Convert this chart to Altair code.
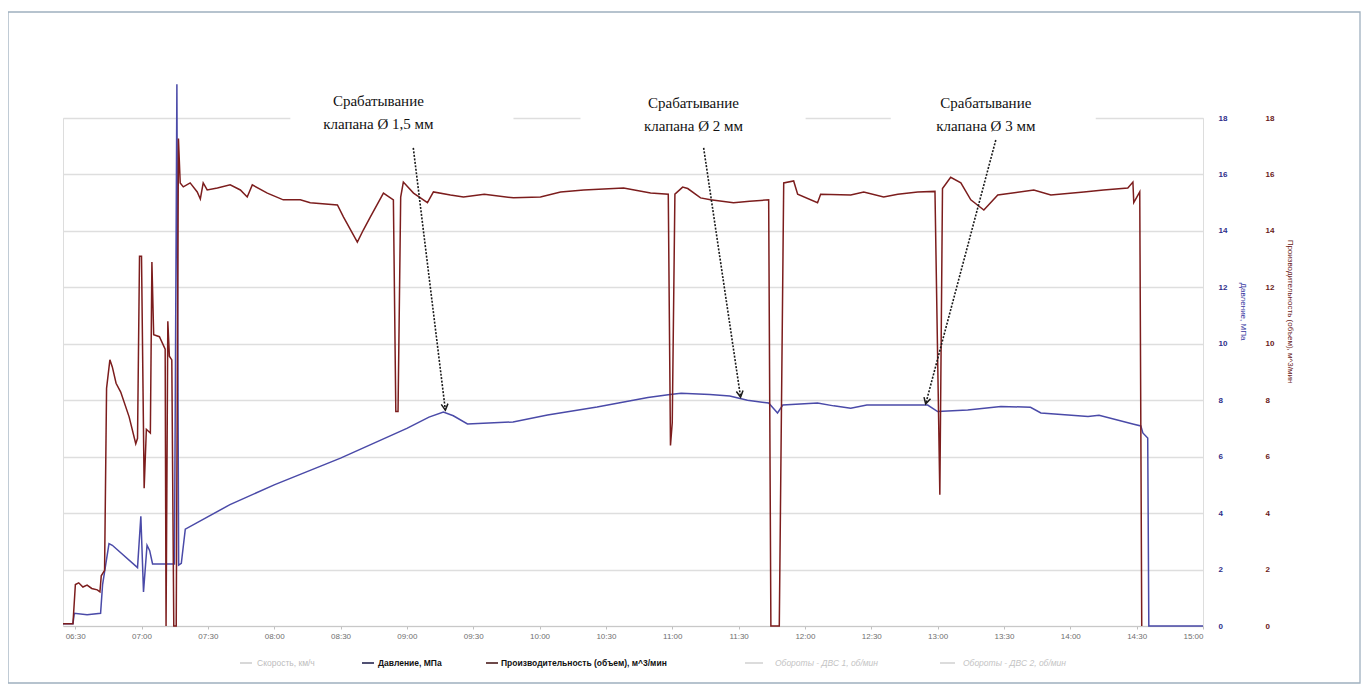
import math
import altair as alt
import pandas as pd

# ---------------- data ----------------
blue_time = ["06:24:30", "06:29:00", "06:29:36", "06:35:24", "06:41:30", "06:42:24", "06:45:18",
             "06:46:48", "06:58:12", "06:59:42", "07:00:54", "07:02:30", "07:03:42", "07:05:00",
             "07:14:54", "07:16:00", "07:16:48", "07:18:00", "07:19:48", "07:26:00", "07:40:00",
             "08:00:00", "08:30:00", "09:00:00", "09:10:00", "09:16:30", "09:21:00", "09:27:24",
             "09:48:00", "10:03:36", "10:26:00", "10:49:00", "10:59:00", "11:04:00", "11:17:00",
             "11:26:00", "11:34:00", "11:43:36", "11:47:36", "11:50:00", "12:05:42", "12:13:00",
             "12:20:42", "12:28:00", "12:55:30", "13:00:00", "13:13:36", "13:28:36", "13:42:00",
             "13:46:42", "13:59:00", "14:08:00", "14:13:00", "14:28:42", "14:31:54", "14:32:48",
             "14:35:00", "14:35:30", "15:00:00"]
blue_value = [0.08, 0.08, 0.45, 0.40, 0.45, 1.47, 2.92,
              2.86, 2.07, 3.89, 1.21, 2.86, 2.67, 2.20,
              2.20, 19.2, 2.16, 2.22, 3.43, 3.70, 4.30,
              5.00, 5.95, 7.00, 7.40, 7.58, 7.45, 7.16,
              7.23, 7.48, 7.76, 8.10, 8.20, 8.25, 8.20,
              8.15, 8.00, 7.90, 7.55, 7.83, 7.90, 7.80,
              7.72, 7.83, 7.83, 7.60, 7.65, 7.78, 7.75,
              7.55, 7.48, 7.42, 7.47, 7.15, 7.09, 6.84,
              6.66, 0.0, 0.0]

red_time = ["06:24:30", "06:29:00", "06:30:06", "06:31:36", "06:33:30", "06:35:24", "06:37:30",
            "06:40:00", "06:41:12", "06:41:48", "06:43:18", "06:44:12", "06:45:42", "06:46:48",
            "06:48:30", "06:50:36", "06:54:24", "06:57:24", "06:58:12", "06:59:06", "07:00:00",
            "07:01:12", "07:02:12", "07:04:00", "07:04:42", "07:05:30", "07:08:06", "07:10:42",
            "07:11:06", "07:11:54", "07:12:36", "07:13:42", "07:14:36", "07:15:42", "07:16:42",
            "07:17:30", "07:18:54", "07:22:00", "07:25:12", "07:26:36", "07:27:54", "07:29:42",
            "07:34:18", "07:40:06", "07:44:42", "07:47:48", "07:50:06", "07:56:54", "08:04:06",
            "08:11:48", "08:16:18", "08:28:36", "08:31:18", "08:37:36", "08:40:18", "08:43:30",
            "08:49:24", "08:53:54", "08:55:00", "08:56:00", "08:57:12", "08:58:24", "09:03:00",
            "09:09:18", "09:12:00", "09:19:42", "09:25:36", "09:35:00", "09:48:12", "10:00:24",
            "10:09:30", "10:20:00", "10:38:00", "10:50:12", "10:58:12", "10:59:12", "11:00:00",
            "11:01:12", "11:04:42", "11:07:00", "11:12:48", "11:17:18", "11:27:42", "11:35:00",
            "11:43:36", "11:44:36", "11:48:24", "11:50:24", "11:54:54", "11:56:42", "12:05:42",
            "12:07:06", "12:20:42", "12:26:36", "12:35:36", "12:42:00", "12:51:00", "12:58:48",
            "13:01:00", "13:02:12", "13:05:54", "13:10:30", "13:15:00", "13:20:54", "13:27:12",
            "13:43:30", "13:51:12", "14:06:06", "14:15:00", "14:26:00", "14:28:18", "14:28:42",
            "14:31:24", "14:32:18"]
red_value = [0.08, 0.08, 1.47, 1.53, 1.38, 1.45, 1.33,
             1.28, 1.21, 1.78, 1.97, 8.42, 9.43, 9.18,
             8.60, 8.29, 7.41, 6.46, 6.65, 13.1, 13.1,
             4.88, 6.97, 6.84, 12.9, 10.32, 10.25, 9.81,
             0.0, 10.8, 9.56, 9.43, 0.0, 0.0, 17.27,
             15.70, 15.56, 15.70, 15.38, 15.13, 15.70, 15.45,
             15.52, 15.63, 15.45, 15.20, 15.63, 15.34, 15.10,
             15.10, 15.00, 14.92, 14.50, 13.60, 14.03, 14.50,
             15.34, 15.10, 7.60, 7.60, 15.20, 15.73, 15.34,
             15.00, 15.38, 15.27, 15.20, 15.30, 15.17, 15.20,
             15.38, 15.45, 15.52, 15.34, 15.30, 6.40, 7.20,
             15.30, 15.55, 15.50, 15.17, 15.10, 15.00, 15.05,
             15.10, 0.0, 0.0, 15.70, 15.77, 15.30, 15.00,
             15.30, 15.27, 15.38, 15.20, 15.30, 15.38, 15.40,
             4.65, 15.50, 15.90, 15.70, 15.10, 14.74, 15.27,
             15.45, 15.27, 15.38, 15.45, 15.52, 15.73, 15.00,
             15.38, 0.0]

x_ticks = ["06:30", "07:00", "07:30", "08:00", "08:30", "09:00", "09:30", "10:00", "10:30",
           "11:00", "11:30", "12:00", "12:30", "13:00", "13:30", "14:00", "14:30", "15:00"]
y_ticks = [0, 2, 4, 6, 8, 10, 12, 14, 16, 18]

note_text = ["Срабатывание\nклапана Ø 1,5 мм", "Срабатывание\nклапана Ø 2 мм",
             "Срабатывание\nклапана Ø 3 мм"]
note_time = ["08:47:06", "11:09:36", "13:21:48"]
note_value = [18.62, 18.52, 18.52]
arrow_start_time = ["09:02:54", "11:14:12", "13:26:18"]
arrow_start_value = [16.94, 16.94, 17.22]
arrow_end_time = ["09:17:24", "11:30:54", "12:54:36"]
arrow_end_value = [7.65, 8.11, 7.87]
box_start_time = ["08:07:18", "10:18:30", "12:38:48"]
box_end_time = ["09:48:12", "12:00:18", "14:11:30"]

legend_labels = ["Скорость, км/ч", "Давление, МПа", "Производительность (объем), м^3/мин",
                 "Обороты - ДВС 1, об/мин", "Обороты - ДВС 2, об/мин"]


def to_min(s):
    parts = [int(p) for p in s.split(":")]
    while len(parts) < 3:
        parts.append(0)
    return parts[0] * 60 + parts[1] + parts[2] / 60.0


# ---------------- geometry / styles ----------------
W, H = 1140, 508
X0, X1 = 384.5, 900.0
PX_PER_MIN = W / (X1 - X0)
PX_PER_UNIT = H / 18.0

BLUE = "#4a4aa8"
RED = "#7c1d1d"

blue_df = pd.DataFrame({"t": [to_min(s) for s in blue_time], "v": blue_value})
red_df = pd.DataFrame({"t": [to_min(s) for s in red_time], "v": red_value})

xscale = alt.Scale(domain=[X0, X1], nice=False, zero=False)
label_expr = ("(floor(datum.value/60) < 10 ? '0' : '') + floor(datum.value/60) + ':' + "
              "(datum.value % 60 < 10 ? '0' : '') + (datum.value % 60)")
xaxis = alt.Axis(values=[to_min(s) for s in x_ticks], labelExpr=label_expr, title=None,
                 grid=False, labelFontSize=8, labelColor="#6f6f6f", labelFont="Liberation Sans",
                 tickColor="#c0c0c0", tickSize=3, domainColor="#c8c8c8", domainWidth=1.2,
                 labelPadding=3, labelOverlap=False)
yscale = alt.Scale(domain=[0, 18], nice=False, zero=True)

blue_axis = alt.Axis(orient="right", values=y_ticks, grid=True, gridColor="#dedede", gridWidth=1.3,
                     domain=False, ticks=False, labelPadding=15, labelFontSize=8,
                     labelFontWeight="bold", labelColor="#2e2e8a", labelFont="Liberation Sans",
                     title="Давление, МПа", titleColor="#3535a0", titleFontSize=8,
                     titleFontWeight="normal", titleFont="Liberation Sans", titleY=193,
                     titlePadding=12)
red_axis = alt.Axis(orient="right", offset=47, values=y_ticks, grid=False, domain=False, ticks=False,
                    labelPadding=15, labelFontSize=8, labelFontWeight="bold", labelColor="#6a1a1a",
                    labelFont="Liberation Sans",
                    title="Производительность (объем), м^3/мин", titleColor="#6a1a1a",
                    titleFontSize=8, titleFontWeight="normal", titleFont="Liberation Sans",
                    titleY=193, titlePadding=12)

xenc = alt.X("t:Q", scale=xscale, axis=xaxis)

blue_line = alt.Chart(blue_df).mark_line(color=BLUE, strokeWidth=1.5).encode(
    x=xenc, y=alt.Y("v:Q", scale=yscale, axis=blue_axis))
red_line = alt.Chart(red_df).mark_line(color=RED, strokeWidth=1.5).encode(
    x=xenc, y=alt.Y("v:Q", scale=yscale, axis=red_axis))

# ---------------- annotations ----------------
ann_y = lambda f: alt.Y(f, scale=yscale, axis=None)

box_df = pd.DataFrame({"t": [to_min(s) for s in box_start_time],
                       "t2": [to_min(s) for s in box_end_time],
                       "v": [17.3] * 3, "v2": [19.3] * 3})
boxes = alt.Chart(box_df).mark_rect(color="white").encode(
    x=xenc, x2="t2:Q", y=ann_y("v:Q"), y2="v2:Q")

arr_df = pd.DataFrame({"t": [to_min(s) for s in arrow_start_time], "v": arrow_start_value,
                       "t2": [to_min(s) for s in arrow_end_time], "v2": arrow_end_value})
angles = []
for a, b, c, d in zip(arr_df.t, arr_df.v, arr_df.t2, arr_df.v2):
    dx = (c - a) * PX_PER_MIN
    dy = (b - d) * PX_PER_UNIT
    angles.append((-math.degrees(math.atan2(dx, dy))) % 360)
arr_df["ang"] = angles

arrow_lines = alt.Chart(arr_df).mark_rule(color="#1a1a1a", strokeWidth=1.6, strokeDash=[2, 1.5]).encode(
    x=xenc, x2="t2:Q", y=ann_y("v:Q"), y2="v2:Q")
arrow_heads = alt.Chart(arr_df).mark_point(shape="M-0.55,-1L0,0L0.55,-1", filled=False,
                                           color="#1a1a1a", strokeWidth=1.5, size=150,
                                           opacity=1).encode(
    x=alt.X("t2:Q", scale=xscale, axis=xaxis), y=ann_y("v2:Q"),
    angle=alt.Angle("ang:Q", scale=None))

note_df = pd.DataFrame({"t": [to_min(s) for s in note_time], "v": note_value, "txt": note_text})
notes = alt.Chart(note_df).mark_text(font="Liberation Serif", fontSize=15, color="#111111",
                                     lineBreak="\n", lineHeight=23, align="center",
                                     baseline="middle").encode(
    x=xenc, y=ann_y("v:Q"), text="txt:N")

one = pd.DataFrame({"k": [0]})
frame = alt.Chart(one).mark_rect(fill=None, stroke="#9fb0bf", strokeWidth=1.3).encode(
    x=alt.value(-55), x2=alt.value(1297), y=alt.value(-106), y2=alt.value(565))

legend_text_x = [194, 315, 438, 712, 900]
legend_sym_x = [(177, 189), (299, 311), (423, 435), (682, 700), (877, 892)]
legend_color = ["#cfcfcf", "#262650", "#4a1c1c", "#d4d4d4", "#d4d4d4"]
legend_txt_color = ["#bdbdbd", "#111111", "#111111", "#c4c4c4", "#c4c4c4"]
legend_weight = ["normal", "bold", "bold", "normal", "normal"]
legend_style = ["normal", "normal", "normal", "italic", "italic"]
LEG_Y = 545

legend_layers = []
for i, lab in enumerate(legend_labels):
    s0, s1 = legend_sym_x[i]
    legend_layers.append(
        alt.Chart(one).mark_rule(color=legend_color[i], strokeWidth=1.6).encode(
            x=alt.value(s0), x2=alt.value(s1), y=alt.value(LEG_Y), y2=alt.value(LEG_Y)))
    legend_layers.append(
        alt.Chart(one).mark_text(text=lab, align="left", baseline="middle", fontSize=8.5,
                                 font="Liberation Sans", fontWeight=legend_weight[i],
                                 fontStyle=legend_style[i], color=legend_txt_color[i]).encode(
            x=alt.value(legend_text_x[i]), y=alt.value(LEG_Y)))

annot = alt.layer(boxes, arrow_lines, arrow_heads, notes, frame, *legend_layers)

chart = alt.layer(blue_line, red_line, annot).resolve_scale(y="independent").properties(
    width=W, height=H,
    padding={"left": 55, "top": 110, "right": 158, "bottom": 58},
    autosize=alt.AutoSizeParams(type="none"),
).configure_view(stroke=None).configure(background="white")

chart.save("out.html", embed_options={"renderer": "svg", "actions": False})
